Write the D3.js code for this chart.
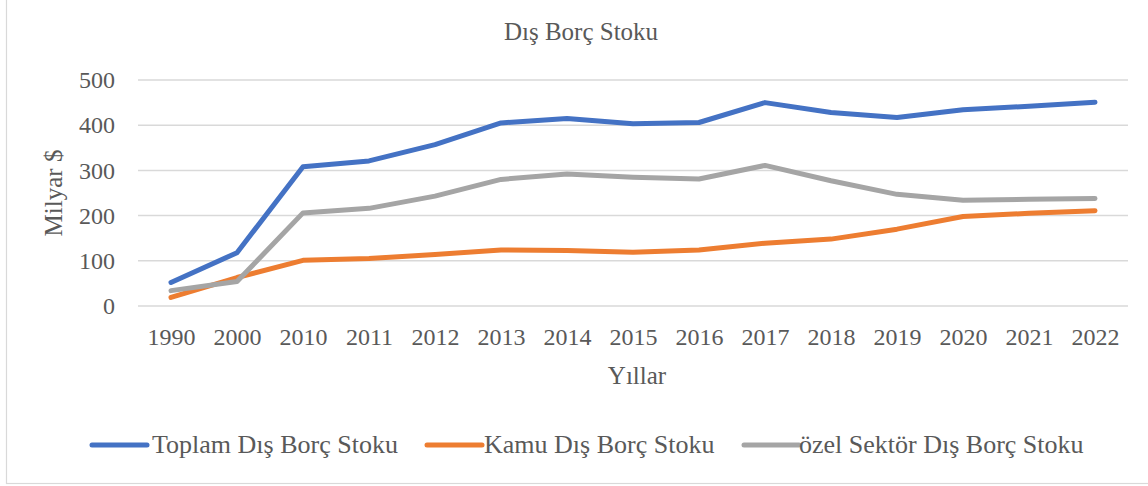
<!DOCTYPE html>
<html>
<head>
<meta charset="utf-8">
<script src="https://cdn.jsdelivr.net/npm/d3@7"></script>
<style>
  html, body { margin: 0; padding: 0; background: #fff; }
  svg { display: block; }
  text { font-family: "Liberation Serif", "Times New Roman", serif; fill: #595959; }
</style>
</head>
<body>
<svg id="chart" width="1148" height="486"></svg>
<script>
const years = ["1990","2000","2010","2011","2012","2013","2014","2015","2016","2017","2018","2019","2020","2021","2022"];
const toplam = [52, 118, 308, 321, 357, 405, 415, 403, 406, 450, 428, 417, 434, 442, 451];
const kamu   = [19, 63, 101, 105, 114, 124, 123, 119, 124, 139, 148, 170, 198, 205, 211];
const ozel   = [34, 54, 206, 216, 243, 280, 292, 285, 281, 311, 277, 247, 234, 236, 238];
const yTicks = [0, 100, 200, 300, 400, 500];
const seriesNames = ["Toplam Dış Borç Stoku", "Kamu Dış Borç Stoku", "özel Sektör Dış Borç Stoku"];
const seriesColors = ["#4472C4", "#ED7D31", "#A5A5A5"];

const series = [toplam, kamu, ozel].map((vals, i) => ({
  name: seriesNames[i], color: seriesColors[i], values: vals
}));

const svg = d3.select("#chart");

// outer border
svg.append("rect")
  .attr("x", 6.5).attr("y", -10)
  .attr("width", 1160).attr("height", 493.5)
  .attr("fill", "none").attr("stroke", "#D9D9D9").attr("stroke-width", 1.2);

const plot = { left: 138, right: 1128, top: 80, bottom: 306 };

const x = d3.scalePoint().domain(years).range([plot.left, plot.right]).padding(0.5);
const y = d3.scaleLinear().domain([0, 500]).range([plot.bottom, plot.top]);

// gridlines
svg.append("g").selectAll("line").data(yTicks).join("line")
  .attr("x1", plot.left).attr("x2", plot.right)
  .attr("y1", d => y(d)).attr("y2", d => y(d))
  .attr("stroke", "#D9D9D9").attr("stroke-width", 1.5);

// y axis labels
const yAxis = d3.axisLeft(y).tickValues(yTicks).tickSize(0).tickPadding(0);
const gy = svg.append("g").attr("transform", `translate(115,0)`).call(yAxis);
gy.attr("font-family", null).attr("font-size", null);
gy.select(".domain").remove();
gy.selectAll("text").style("font-size", "24px").style("font-family", "'Liberation Serif', serif").attr("fill", "#595959");

// x axis labels
const xAxis = d3.axisBottom(x).tickSize(0).tickPadding(0);
const gx = svg.append("g").attr("transform", `translate(0,328)`).call(xAxis);
gx.attr("font-family", null).attr("font-size", null);
gx.select(".domain").remove();
gx.selectAll("text").style("font-size", "24px").style("font-family", "'Liberation Serif', serif").attr("fill", "#595959");

// lines
const line = d3.line().x((d, i) => x(years[i])).y(d => y(d));
svg.append("g").selectAll("path").data(series).join("path")
  .attr("d", d => line(d.values))
  .attr("fill", "none")
  .attr("stroke", d => d.color)
  .attr("stroke-width", 5)
  .attr("stroke-linecap", "round")
  .attr("stroke-linejoin", "round");

// title
svg.append("text").attr("x", 581).attr("y", 40)
  .attr("text-anchor", "middle").style("font-size", "25px").text("Dış Borç Stoku");

// axis titles
svg.append("text").attr("x", 637).attr("y", 384)
  .attr("text-anchor", "middle").style("font-size", "25px").text("Yıllar");
svg.append("text")
  .attr("transform", "translate(62,193) rotate(-90)")
  .attr("text-anchor", "middle").style("font-size", "25px").text("Milyar $");

// legend
const legendItems = [
  { lx: 92, tx: 152 },
  { lx: 427, tx: 484 },
  { lx: 744, tx: 799 }
];
const lg = svg.append("g").selectAll("g").data(series).join("g")
  .attr("transform", (d, i) => `translate(${legendItems[i].lx},445)`);
lg.append("line").attr("x1", 0).attr("x2", 55).attr("y1", 0).attr("y2", 0)
  .attr("stroke", d => d.color).attr("stroke-width", 5).attr("stroke-linecap", "round");
lg.append("text").attr("x", (d, i) => legendItems[i].tx - legendItems[i].lx).attr("y", 8)
  .style("font-size", "26px").text(d => d.name);
</script>
</body>
</html>
